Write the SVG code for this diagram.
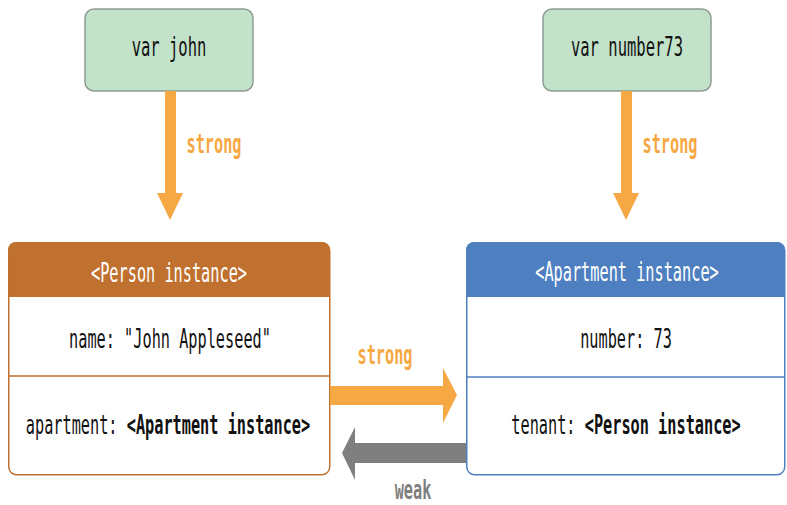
<svg xmlns="http://www.w3.org/2000/svg" width="787" height="505" viewBox="0 0 787 505">
<style>
text{font-family:"DejaVu Sans Mono","Liberation Mono",monospace;font-size:27px;text-anchor:middle}
.var{fill:#c3e2ca;stroke:#8f9c92;stroke-width:1.5}
.t{fill:#111}
.h{fill:#fff}
.b{font-weight:bold}
.lo{fill:#f5a843;font-weight:bold}
.lg{fill:#7f7f7f;font-weight:bold}
</style>
<rect width="787" height="505" fill="#fff"/>
<g id="var-john">
<rect class="var" x="85" y="9" width="168" height="82" rx="9"/>
<text class="t" transform="translate(169,56) scale(0.575,1)">var john</text>
</g>
<g id="var-number73">
<rect class="var" x="543" y="9" width="168" height="82" rx="9"/>
<text class="t" transform="translate(627,56) scale(0.575,1)">var number73</text>
</g>
<g id="person">
<path d="M8,297 V250 a8,8 0 0 1 8,-8 H322 a8,8 0 0 1 8,8 V297 Z" fill="#c0712f"/>
<rect x="8.75" y="242.75" width="321" height="232" rx="8" fill="none" stroke="#c0712f" stroke-width="1.5"/>
<line x1="9" y1="376" x2="330" y2="376" stroke="#c0712f" stroke-width="1.5"/>
<text class="h" transform="translate(169,282) scale(0.565,1)">&lt;Person instance&gt;</text>
<text class="t" transform="translate(170,348) scale(0.565,1)">name: "John Appleseed"</text>
<text class="t" transform="translate(168,434) scale(0.565,1)">apartment: <tspan class="b">&lt;Apartment instance&gt;</tspan></text>
</g>
<g id="apartment">
<path d="M466,297 V250 a8,8 0 0 1 8,-8 H777 a8,8 0 0 1 8,8 V297 Z" fill="#4e7fc0"/>
<rect x="466.75" y="242.75" width="318" height="232" rx="8" fill="none" stroke="#4e7fc0" stroke-width="1.5"/>
<line x1="467" y1="377" x2="785" y2="377" stroke="#4e7fc0" stroke-width="1.5"/>
<text class="h" transform="translate(627,281) scale(0.565,1)">&lt;Apartment instance&gt;</text>
<text class="t" transform="translate(626,348) scale(0.565,1)">number: 73</text>
<text class="t" transform="translate(626,434) scale(0.565,1)">tenant: <tspan class="b">&lt;Person instance&gt;</tspan></text>
</g>
<g id="connectors">
<polygon points="165,91 176,91 176,193 183,193 170,220 157,193 165,193" fill="#f5a843"/>
<polygon points="621,91 632,91 632,193 639,193 626,220 613,193 621,193" fill="#f5a843"/>
<polygon points="330,386 443,386 443,368 457,395 443,423 443,405 330,405" fill="#f5a843"/>
<polygon points="466,443 355,443 355,427 342,453 355,480 355,463 466,463" fill="#7f7f7f"/>
<text class="lo" transform="translate(214,153) scale(0.565,1)">strong</text>
<text class="lo" transform="translate(670,153) scale(0.565,1)">strong</text>
<text class="lo" transform="translate(385,364) scale(0.565,1)">strong</text>
<text class="lg" transform="translate(413,499) scale(0.565,1)">weak</text>
</g>
</svg>
